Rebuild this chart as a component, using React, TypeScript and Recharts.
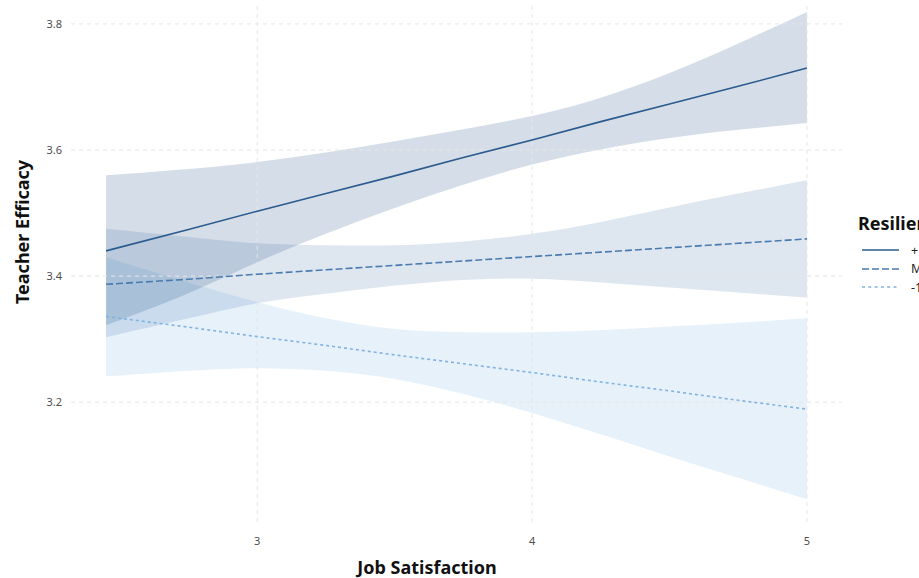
import React from "react";
import { ComposedChart, Area, Line, XAxis, YAxis, ReferenceLine } from "recharts";

const jobSatisfaction = [2.45, 2.75, 3, 3.25, 3.5, 3.75, 4, 4.25, 4.5, 4.75, 5];

const highLine = [3.44, 3.474, 3.503, 3.531, 3.559, 3.588, 3.616, 3.645, 3.673, 3.701, 3.73];
const highUpper = [3.56, 3.57, 3.581, 3.596, 3.614, 3.633, 3.654, 3.683, 3.722, 3.769, 3.819];
const highLower = [3.322, 3.373, 3.422, 3.467, 3.508, 3.545, 3.577, 3.601, 3.619, 3.632, 3.643];

const meanLine = [3.387, 3.395, 3.403, 3.41, 3.417, 3.424, 3.431, 3.438, 3.445, 3.452, 3.459];
const meanUpper = [3.475, 3.462, 3.452, 3.449, 3.449, 3.455, 3.467, 3.486, 3.509, 3.531, 3.552];
const meanLower = [3.303, 3.333, 3.357, 3.372, 3.385, 3.394, 3.396, 3.39, 3.382, 3.374, 3.366];

const lowLine = [3.336, 3.319, 3.304, 3.29, 3.275, 3.261, 3.247, 3.232, 3.218, 3.203, 3.189];
const lowUpper = [3.43, 3.39, 3.359, 3.333, 3.316, 3.311, 3.311, 3.314, 3.32, 3.326, 3.333];
const lowLower = [3.241, 3.25, 3.254, 3.25, 3.237, 3.213, 3.183, 3.149, 3.114, 3.08, 3.046];

const xTicks = [3, 4, 5];
const yTicks = [3.2, 3.4, 3.6, 3.8];
const legendLabels = ["+1 SD", "Mean", "-1 SD"];

const data = jobSatisfaction.map((x, i) => ({
  x,
  high: highLine[i],
  highBand: [highLower[i], highUpper[i]],
  mean: meanLine[i],
  meanBand: [meanLower[i], meanUpper[i]],
  low: lowLine[i],
  lowBand: [lowLower[i], lowUpper[i]],
}));

const C_HIGH = "#2b5a8e";
const C_MEAN = "#4a7bb0";
const C_LOW = "#80b3e1";
const GRID = "#e6e6e6";

const font = "'Noto Sans', 'Open Sans', sans-serif";

export default function App() {
  const legendItems = [
    { label: legendLabels[0], color: C_HIGH, dash: undefined },
    { label: legendLabels[1], color: C_MEAN, dash: "7 3" },
    { label: legendLabels[2], color: C_LOW, dash: "3 3.3" },
  ];
  return (
    <div
      style={{
        position: "fixed",
        left: 0,
        top: 0,
        width: 919,
        height: 578,
        overflow: "hidden",
        background: "#fff",
        fontFamily: font,
      }}
    >
      <ComposedChart
        width={1000}
        height={578}
        data={data}
        margin={{ top: 5, right: 158, left: 0, bottom: 26 }}
      >
        <XAxis
          type="number"
          dataKey="x"
          domain={[2.3225, 5.1275]}
          ticks={xTicks}
          allowDataOverflow
          axisLine={false}
          tickLine={false}
          tickMargin={9}
          height={30}
          tick={{ fontSize: 11, fill: "#4d4d4d", fontFamily: font }}
        />
        <YAxis
          type="number"
          domain={[3.01, 3.83]}
          ticks={yTicks}
          allowDataOverflow
          axisLine={false}
          tickLine={false}
          width={71}
          tickMargin={3}
          tickFormatter={(v: number) => v.toFixed(1)}
          tick={{ fontSize: 11, fill: "#4d4d4d", fontFamily: font }}
        />
        {yTicks.map((t) => (
          <ReferenceLine key={"h" + t} y={t} stroke={GRID} strokeDasharray="4 4" />
        ))}
        {xTicks.map((t) => (
          <ReferenceLine key={"v" + t} x={t} stroke={GRID} strokeDasharray="4 4" />
        ))}
        <Area
          type="natural"
          dataKey="lowBand"
          stroke="none"
          fill="#8ebde8"
          fillOpacity={0.22}
          isAnimationActive={false}
        />
        <Area
          type="natural"
          dataKey="meanBand"
          stroke="none"
          fill="#4a78ae"
          fillOpacity={0.18}
          isAnimationActive={false}
        />
        <Area
          type="natural"
          dataKey="highBand"
          stroke="none"
          fill="#2c5a8c"
          fillOpacity={0.2}
          isAnimationActive={false}
        />
        <Line
          type="linear"
          dataKey="low"
          stroke={C_LOW}
          strokeWidth={1.6}
          strokeDasharray="3 3"
          dot={false}
          activeDot={false}
          isAnimationActive={false}
        />
        <Line
          type="linear"
          dataKey="mean"
          stroke={C_MEAN}
          strokeWidth={1.6}
          strokeDasharray="7 3"
          dot={false}
          activeDot={false}
          isAnimationActive={false}
        />
        <Line
          type="linear"
          dataKey="high"
          stroke={C_HIGH}
          strokeWidth={1.6}
          dot={false}
          activeDot={false}
          isAnimationActive={false}
        />
      </ComposedChart>

      <div
        style={{
          position: "absolute",
          left: 0,
          top: 555,
          width: 854,
          textAlign: "center",
          fontWeight: 700,
          fontSize: 18,
          color: "#111",
          whiteSpace: "nowrap",
          lineHeight: "24px",
        }}
      >
        Job Satisfaction
      </div>
      <div
        style={{
          position: "absolute",
          left: 22,
          top: 232,
          transform: "translate(-50%, -50%) rotate(-90deg)",
          fontWeight: 700,
          fontSize: 18,
          color: "#111",
          whiteSpace: "nowrap",
          lineHeight: "24px",
        }}
      >
        Teacher Efficacy
      </div>

      <div style={{ position: "absolute", left: 858, top: 211, whiteSpace: "nowrap" }}>
        <div style={{ fontWeight: 700, fontSize: 18, color: "#111", lineHeight: "24px" }}>
          Resilience
        </div>
        {legendItems.map((it, i) => (
          <div
            key={it.label}
            style={{
              display: "flex",
              alignItems: "center",
              height: 18.5,
              marginTop: i === 0 ? 6 : 0,
            }}
          >
            <svg width={44} height={18} style={{ display: "block" }}>
              <line
                x1={4}
                x2={41}
                y1={9}
                y2={9}
                stroke={it.color}
                strokeWidth={1.6}
                strokeDasharray={it.dash}
              />
            </svg>
            <span style={{ fontSize: 12.5, color: "#222", marginLeft: 9 }}>{it.label}</span>
          </div>
        ))}
      </div>
    </div>
  );
}
